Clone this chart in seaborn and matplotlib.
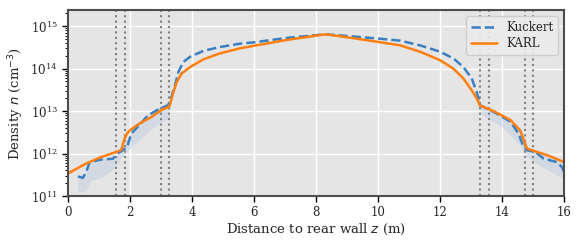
import matplotlib
matplotlib.use("Agg")
import matplotlib.pyplot as plt
import numpy as np
import pandas as pd
import seaborn as sns

# distance to rear wall (m) and log10 density (cm^-3)
z_karl = [0.0, 0.54, 1.07, 1.61, 1.72, 1.83, 1.9, 2.0, 2.31, 2.69, 3.0, 3.27,
          3.4, 3.51, 3.67, 3.94, 4.37, 4.9, 5.55, 6.0, 7.0, 8.3, 9.0, 10.0,
          10.71, 11.35, 12.0, 12.43, 12.75, 13.02, 13.18, 13.29, 13.73, 14.27,
          14.58, 14.8, 14.96, 15.5, 16.0]
logn_karl = [11.53, 11.75, 11.92, 12.05, 12.09, 12.36, 12.47, 12.55, 12.71, 12.86,
             13.02, 13.11, 13.45, 13.69, 13.89, 14.04, 14.22, 14.36, 14.48, 14.54,
             14.67, 14.81, 14.74, 14.63, 14.55, 14.40, 14.20, 14.00, 13.77, 13.49,
             13.30, 13.13, 13.00, 12.79, 12.55, 12.12, 12.08, 11.95, 11.80]

z_kuck = [0.32, 0.48, 0.59, 0.70, 1.07, 1.45, 1.59, 1.77, 1.91, 2.04, 2.31, 2.58,
          2.96, 3.23, 3.3, 3.45, 3.56, 3.72, 3.94, 4.37, 4.9, 5.55, 6.0, 7.0, 8.3,
          9.0, 10.0, 10.71, 11.35, 12.0, 12.43, 12.75, 13.02, 13.18, 13.29, 13.73,
          14.27, 14.53, 14.69, 14.8, 15.07, 15.34, 15.77, 15.93, 16.0]
logn_kuck = [11.46, 11.43, 11.57, 11.80, 11.86, 11.88, 12.00, 12.08, 12.16, 12.47,
             12.68, 12.90, 13.06, 13.14, 13.25, 13.61, 13.92, 14.16, 14.28, 14.42,
             14.51, 14.59, 14.62, 14.72, 14.81, 14.77, 14.71, 14.66, 14.55, 14.40,
             14.24, 14.04, 13.77, 13.45, 13.14, 12.98, 12.75, 12.47, 12.16, 12.08,
             12.04, 11.88, 11.80, 11.68, 11.57]

z_band = [0.32, 0.59, 0.75, 1.07, 1.5, 1.72, 2.0, 2.5, 3.0, 3.27,
          13.29, 13.99, 14.58, 14.8, 15.3, 16.0]
band_lo = [11.09, 11.12, 11.37, 11.43, 11.65, 11.92, 12.12, 12.47, 12.75, 12.83,
           12.94, 12.63, 12.20, 11.92, 11.68, 11.41]
band_hi = [11.50, 11.55, 11.80, 11.87, 11.92, 12.10, 12.45, 12.92, 13.12, 13.15,
           13.12, 12.92, 12.52, 12.12, 11.98, 11.84]

walls = [1.55, 1.84, 2.99, 3.27, 13.29, 13.58, 14.74, 15.01]

sns.set_theme(style="darkgrid")
plt.rcParams["font.family"] = ["DejaVu Serif"]
plt.rcParams["mathtext.fontset"] = "dejavusans"

karl = pd.DataFrame({"z": z_karl, "n": 10.0 ** np.array(logn_karl)})
kuck = pd.DataFrame({"z": z_kuck, "n": 10.0 ** np.array(logn_kuck)})
band = pd.DataFrame({"z": z_band, "lo": 10.0 ** np.array(band_lo),
                     "hi": 10.0 ** np.array(band_hi)})

fig = plt.figure(figsize=(5.81, 2.46), dpi=100)
ax = fig.add_axes([0.117, 0.203, 0.854, 0.756])
ax.set_facecolor("#E5E5E5")

# uncertainty band: left and right segments drawn separately
left = band[band["z"] < 8]
right = band[band["z"] > 8]
for part in (left, right):
    ax.fill_between(part["z"], part["lo"], part["hi"], color="#B0C4DE", alpha=0.35,
                    linewidth=0)

for w in walls:
    ax.axvline(w, color="#808080", linestyle=(0, (1, 1.6)), linewidth=1.5, zorder=1.5)

sns.lineplot(data=kuck, x="z", y="n", ax=ax, color="#3a7fc1", linestyle="--",
             linewidth=1.8, label="Kuckert")
sns.lineplot(data=karl, x="z", y="n", ax=ax, color="#ff7f0e", linewidth=1.8,
             label="KARL")

ax.set_yscale("log")
ax.set_xlim(0, 16)
ax.set_ylim(1e11, 10 ** 15.38)
ax.set_xticks([0, 2, 4, 6, 8, 10, 12, 14, 16])
ax.set_yticks([1e11, 1e12, 1e13, 1e14, 1e15])
ax.grid(True, which="major", color="white", linewidth=1.0)
ax.grid(False, which="minor")
ax.tick_params(axis="both", which="major", labelsize=8.5, direction="out",
               length=4, width=1, color="black", left=True, bottom=True)
ax.tick_params(axis="y", which="minor", direction="out", length=2, width=0.7,
               color="black", left=True)
for s in ax.spines.values():
    s.set_visible(True)
    s.set_color("#4d4d4d")
    s.set_linewidth(1.5)

ax.set_xlabel("Distance to rear wall $z$ (m)", fontsize=9.5, labelpad=2)
ax.set_ylabel("Density $n$ (cm$^{-3}$)", fontsize=9.5, labelpad=3)
leg = ax.legend(loc="upper right", fontsize=8.5, frameon=True, facecolor="#EBEBEB",
                edgecolor="#CCCCCC", handlelength=2.2, borderpad=0.4,
                labelspacing=0.3)
leg.get_frame().set_alpha(0.9)

fig.savefig("out.png", dpi=100)
